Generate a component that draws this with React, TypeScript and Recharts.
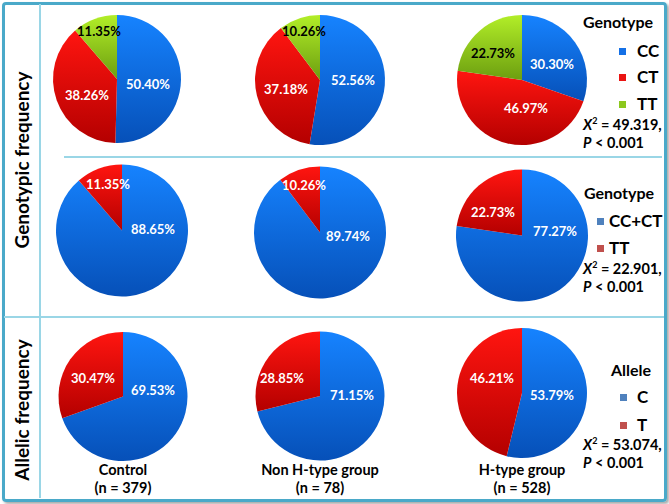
import { Cell, Pie, PieChart } from "recharts";

const groups = ["Control", "Non H-type group", "H-type group"];
const groupN = [379, 78, 528];

const genotypes = ["CC", "CT", "TT"];
const controlGenotype = [50.4, 38.26, 11.35];
const nonHGenotype = [52.56, 37.18, 10.26];
const hTypeGenotype = [30.3, 46.97, 22.73];

const dominantGroups = ["CC+CT", "TT"];
const controlDominant = [88.65, 11.35];
const nonHDominant = [89.74, 10.26];
const hTypeDominant = [77.27, 22.73];

const alleles = ["C", "T"];
const controlAllele = [69.53, 30.47];
const nonHAllele = [71.15, 28.85];
const hTypeAllele = [53.79, 46.21];

const chiSquare = ["49.319", "22.901", "53.074"];
const pText = "< 0.001";

const FONT = "Lato, 'Open Sans', sans-serif";
const LINE = "#9ad6e6";

const toRows = (names: string[], values: number[]) =>
  names.map((name, i) => ({ name, value: values[i] }));

// gradient ids, one per slice colour
const grad = { blue: "url(#gBlue)", red: "url(#gRed)", green: "url(#gGreen)" };

// where each label sits relative to its pie centre (the reference places them by hand)
type Off = [number, number][];
const rowLayout = [
  {
    top: 0,
    height: 157,
    pies: [
      { cx: 117, cy: 79, r: 64, off: [[31, 5], [-30, 16], [-18, -48]] as Off },
      { cx: 320, cy: 80, r: 65, off: [[33, 0], [-34, 9], [-16, -49]] as Off },
      { cx: 522, cy: 80, r: 65, off: [[30, -16], [4, 28], [-29, -27]] as Off },
    ],
  },
  {
    top: 157,
    height: 159,
    pies: [
      { cx: 122, cy: 73.5, r: 66, off: [[31, -2], [-14, -47]] as Off },
      { cx: 320, cy: 75.5, r: 66, off: [[28, 3], [-16, -48]] as Off },
      { cx: 522, cy: 78.5, r: 66, off: [[33, -5], [-29, -24]] as Off },
    ],
  },
  {
    top: 316,
    height: 150,
    pies: [
      { cx: 123, cy: 80.5, r: 64.5, off: [[30, -7], [-30, -19]] as Off },
      { cx: 320, cy: 80, r: 64.5, off: [[32, -1], [-38, -18]] as Off },
      { cx: 522, cy: 77, r: 65, off: [[30, 2], [-30, -15]] as Off },
    ],
  },
];

const makeLabel =
  (off: Off, colors: string[]) =>
  (props: any) => {
    const { cx, cy, index, value } = props;
    const [dx, dy] = off[index];
    return (
      <text
        x={cx + dx}
        y={cy + dy}
        fill={colors[index]}
        textAnchor="middle"
        dominantBaseline="central"
        fontSize={13}
        fontWeight={700}
        fontFamily={FONT}
      >
        {Number(value).toFixed(2)}%
      </text>
    );
  };

function Gradients() {
  return (
    <defs>
      <linearGradient id="gBlue" x1="0" y1="0" x2="0" y2="1">
        <stop offset="0%" stopColor="#1683ff" />
        <stop offset="100%" stopColor="#0650b8" />
      </linearGradient>
      <linearGradient id="gRed" x1="0" y1="0" x2="0" y2="1">
        <stop offset="0%" stopColor="#ff1510" />
        <stop offset="100%" stopColor="#b40000" />
      </linearGradient>
      <linearGradient id="gGreen" x1="0" y1="0" x2="0" y2="1">
        <stop offset="0%" stopColor="#b2ee28" />
        <stop offset="100%" stopColor="#6c9e10" />
      </linearGradient>
    </defs>
  );
}

function PieRow({
  row,
  names,
  series,
  fills,
  labelColors,
}: {
  row: (typeof rowLayout)[number];
  names: string[];
  series: number[][];
  fills: string[];
  labelColors: string[];
}) {
  return (
    <div style={{ position: "absolute", left: 0, top: row.top }}>
      <PieChart width={669} height={row.height} margin={{ top: 0, right: 0, bottom: 0, left: 0 }}>
        <Gradients />
        {row.pies.map((p, i) => (
          <Pie
            key={i}
            data={toRows(names, series[i])}
            dataKey="value"
            nameKey="name"
            cx={p.cx}
            cy={p.cy}
            outerRadius={p.r}
            startAngle={90}
            endAngle={-270}
            stroke="none"
            fill="#000"
            labelLine={false}
            label={makeLabel(p.off, labelColors)}
            isAnimationActive={false}
          >
            {names.map((n, j) => (
              <Cell key={n} fill={fills[j]} />
            ))}
          </Pie>
        ))}
      </PieChart>
    </div>
  );
}

function Legend({
  title,
  titleX,
  titleY,
  names,
  colors,
  boxX,
  textX,
  ys,
  statX,
  statY,
  chi,
}: {
  title: string;
  titleX: number;
  titleY: number;
  names: string[];
  colors: string[];
  boxX: number;
  textX: number;
  ys: number[];
  statX: number;
  statY: number;
  chi: string;
}) {
  const txt: React.CSSProperties = {
    position: "absolute",
    fontFamily: FONT,
    fontWeight: 700,
    fontSize: 16,
    lineHeight: "18px",
    color: "#000",
    whiteSpace: "nowrap",
  };
  return (
    <>
      <div style={{ ...txt, left: titleX, top: titleY - 9 }}>{title}</div>
      {names.map((n, i) => (
        <div key={n}>
          <div
            style={{
              position: "absolute",
              left: boxX,
              top: ys[i] - 3.5,
              width: 7,
              height: 7,
              background: colors[i],
            }}
          />
          <div style={{ ...txt, fontSize: 17, left: textX, top: ys[i] - 9 }}>{n}</div>
        </div>
      ))}
      <div style={{ ...txt, fontSize: 14.5, left: statX, top: statY - 9 }}>
        <i>X</i>
        <sup style={{ fontSize: 9, lineHeight: 0 }}>2</sup> = {chi},
      </div>
      <div style={{ ...txt, fontSize: 14.5, left: statX, top: statY + 9 }}>
        <i>P</i> {pText}
      </div>
    </>
  );
}

export default function App() {
  const textBase: React.CSSProperties = {
    position: "absolute",
    fontFamily: FONT,
    fontWeight: 700,
    color: "#000",
    whiteSpace: "nowrap",
  };
  return (
    <div
      style={{
        position: "absolute",
        left: 0,
        top: 0,
        width: 669,
        height: 504,
        background: "#fff",
        overflow: "hidden",
      }}
    >
      {/* frame */}
      <div
        style={{
          position: "absolute",
          left: 2,
          top: 2,
          width: 659,
          height: 494,
          border: "3px solid #4aa9c9",
          borderRadius: 4,
          boxShadow: "2px 2px 3px rgba(0,0,0,0.35)",
        }}
      />
      <div style={{ position: "absolute", left: 39, top: 4, width: 1.5, height: 494, background: LINE }} />
      <div style={{ position: "absolute", left: 4, top: 316, width: 660, height: 1.5, background: LINE }} />
      <div style={{ position: "absolute", left: 64, top: 156, width: 598, height: 1.5, background: LINE }} />

      {/* side titles */}
      <div
        style={{
          ...textBase,
          fontSize: 19,
          left: 21,
          top: 160,
          transform: "translate(-50%, -50%) rotate(-90deg)",
        }}
      >
        Genotypic frequency
      </div>
      <div
        style={{
          ...textBase,
          fontSize: 19,
          left: 21,
          top: 410,
          transform: "translate(-50%, -50%) rotate(-90deg)",
        }}
      >
        Allelic frequency
      </div>

      <PieRow
        row={rowLayout[0]}
        names={genotypes}
        series={[controlGenotype, nonHGenotype, hTypeGenotype]}
        fills={[grad.blue, grad.red, grad.green]}
        labelColors={["#fff", "#fff", "#000"]}
      />
      <PieRow
        row={rowLayout[1]}
        names={dominantGroups}
        series={[controlDominant, nonHDominant, hTypeDominant]}
        fills={[grad.blue, grad.red]}
        labelColors={["#fff", "#fff"]}
      />
      <PieRow
        row={rowLayout[2]}
        names={alleles}
        series={[controlAllele, nonHAllele, hTypeAllele]}
        fills={[grad.blue, grad.red]}
        labelColors={["#fff", "#fff"]}
      />

      <Legend
        title="Genotype"
        titleX={583}
        titleY={22}
        names={genotypes}
        colors={["#1470e6", "#ea1412", "#8cc81e"]}
        boxX={619}
        textX={637}
        ys={[51, 77, 104]}
        statX={583}
        statY={125}
        chi={chiSquare[0]}
      />
      <Legend
        title="Genotype"
        titleX={584}
        titleY={193}
        names={dominantGroups}
        colors={["#4f81bd", "#c0504d"]}
        boxX={597}
        textX={609}
        ys={[221, 248]}
        statX={583}
        statY={269}
        chi={chiSquare[1]}
      />
      <Legend
        title="Allele"
        titleX={611}
        titleY={370}
        names={alleles}
        colors={["#4f81bd", "#c0504d"]}
        boxX={620}
        textX={637}
        ys={[397, 425]}
        statX={583}
        statY={445}
        chi={chiSquare[2]}
      />

      {/* group labels */}
      {groups.map((g, i) => (
        <div key={g}>
          <div
            style={{
              ...textBase,
              fontSize: 14.5,
              lineHeight: "17px",
              textAlign: "center",
              left: rowLayout[2].pies[i].cx - 80,
              width: 160,
              top: 461,
            }}
          >
            {g}
          </div>
          <div
            style={{
              ...textBase,
              fontSize: 14.5,
              lineHeight: "17px",
              textAlign: "center",
              left: rowLayout[2].pies[i].cx - 80,
              width: 160,
              top: 479,
            }}
          >
            (n = {groupN[i]})
          </div>
        </div>
      ))}
    </div>
  );
}
